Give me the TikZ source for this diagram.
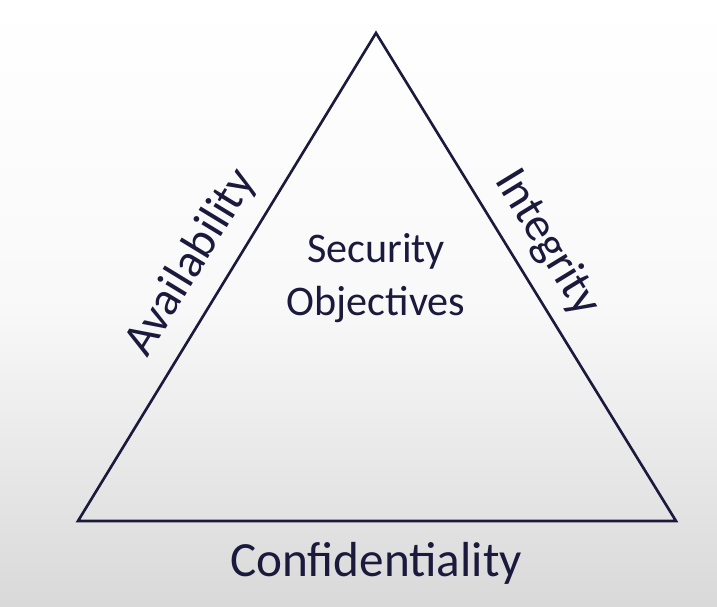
\documentclass[tikz,border=0pt]{standalone}
\usepackage{fontspec}
\setmainfont{Carlito}
\usetikzlibrary{positioning}
\definecolor{navy}{RGB}{28,26,60}
\tikzset{
  side/.style={font=\fontsize{27}{31}\selectfont, text=navy},
  center/.style={font=\fontsize{24}{30}\selectfont, text=navy, align=center}
}
\begin{document}
\begin{tikzpicture}[x=0.02cm,y=-0.02cm]
% background
\shade[top color=white, bottom color=gray!30, middle color=white!95!gray] (0,0) rectangle (717,607);
\useasboundingbox (0,0) rectangle (717,607);
% corners
\coordinate (top) at (376,33);
\coordinate (left) at (78,521);
\coordinate (right) at (676,521);
\draw[navy, line width=1.5pt, line join=miter] (top) -- (left) -- (right) -- cycle;
% Labels
\node[side, rotate=58.6] (avail) at (191,263) {Availability};
\node[side, rotate=-58.6] (integ) at (547,243) {Integrity};
\node[side, font=\fontsize{28}{32}\selectfont] (conf) at (376,563) {Confidentiality};
\node[center] (obj) at (376,278) {Security\\Objectives};
\end{tikzpicture}
\end{document}
